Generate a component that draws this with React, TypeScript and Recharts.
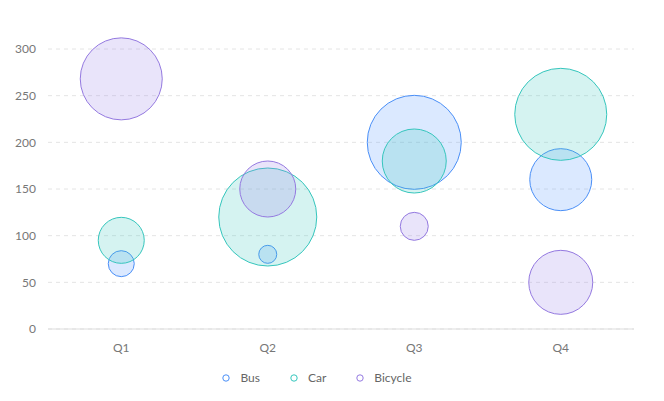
import { CartesianGrid, Legend, Scatter, ScatterChart, XAxis, YAxis } from 'recharts'

const quarters = ['Q1', 'Q2', 'Q3', 'Q4']
const yTicks = [0, 50, 100, 150, 200, 250, 300]

// value and bubble radius (px) per quarter
const busValues = [70, 80, 200, 160]
const busSizes = [13, 9, 47, 31]
const carValues = [95, 120, 180, 230]
const carSizes = [23, 49, 32, 46]
const bicycleValues = [268, 150, 110, 50]
const bicycleSizes = [41, 28, 14, 32]

const series = [
  { name: 'Bus', values: busValues, sizes: busSizes, stroke: '#4a8ff7', fill: '#5a9bff' },
  { name: 'Car', values: carValues, sizes: carSizes, stroke: '#36c6bd', fill: '#3ec8be' },
  { name: 'Bicycle', values: bicycleValues, sizes: bicycleSizes, stroke: '#9479e0', fill: '#9d84e6' },
]

const build = (values: number[], sizes: number[]) =>
  quarters.map((q, i) => ({ q, v: values[i], r: sizes[i] }))

const bubble = (stroke: string, fill: string) => (props: any) => (
  <circle cx={props.cx} cy={props.cy} r={props.payload.r} fill={fill} fillOpacity={0.22} stroke={stroke} strokeWidth={1} />
)

const LegendContent = () => (
  <div style={{ display: 'flex', justifyContent: 'center', gap: 30, fontSize: 12, color: '#666' }}>
    {series.map((s) => (
      <span key={s.name} style={{ display: 'flex', alignItems: 'center', gap: 10 }}>
        <svg width={8} height={8}><circle cx={4} cy={4} r={3.2} fill="none" stroke={s.stroke} /></svg>
        {s.name}
      </span>
    ))}
  </div>
)

export default function App() {
  return (
    <div style={{ position: 'absolute', left: 0, top: 0, fontFamily: 'Lato, "Noto Sans", sans-serif' }}>
      <ScatterChart width={664} height={401} margin={{ top: 49, right: 30, bottom: 27, left: 0 }}>
        <CartesianGrid vertical={false} strokeDasharray="4 4" stroke="#e4e4e4" />
        <XAxis dataKey="q" type="category" allowDuplicatedCategory={false} height={30}
          tick={{ fill: '#777', fontSize: 12 }} tickLine={false} axisLine={{ stroke: '#ddd' }} tickMargin={8} />
        <YAxis dataKey="v" type="number" domain={[0, 300]} ticks={yTicks} width={48}
          tick={{ fill: '#777', fontSize: 12 }} tickLine={false} axisLine={false} tickMargin={6} />
        <Legend verticalAlign="bottom" content={<LegendContent />} wrapperStyle={{ bottom: 16 }} />
        {series.map((s) => (
          <Scatter key={s.name} name={s.name} data={build(s.values, s.sizes)} shape={bubble(s.stroke, s.fill)} isAnimationActive={false} />
        ))}
      </ScatterChart>
    </div>
  )
}
